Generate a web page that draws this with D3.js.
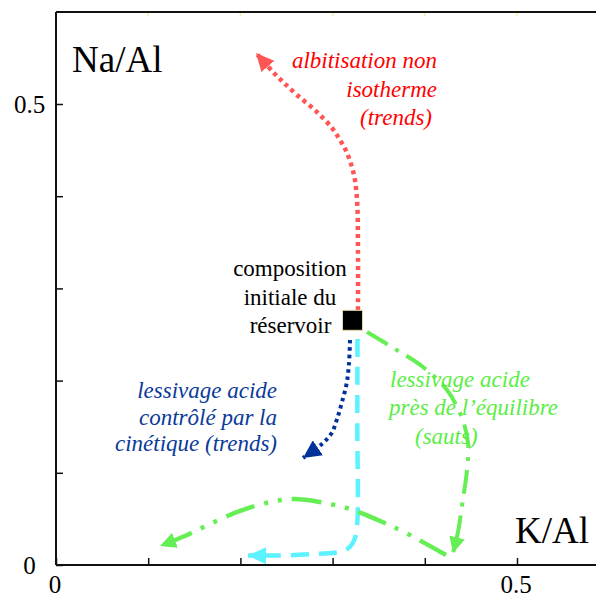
<!DOCTYPE html>
<html>
<head>
<meta charset="utf-8">
<script src="https://cdn.jsdelivr.net/npm/d3@7/dist/d3.min.js"></script>
<style>
  html, body { margin: 0; padding: 0; background: #fff; }
  svg { display: block; }
</style>
</head>
<body>
<svg id="chart" width="596" height="598"></svg>
<script>
// ---- data (K/Al, Na/Al) ----
const xTickValues = [0, 0.1, 0.2, 0.3, 0.4, 0.5];
const xTickLabels = ["0", "", "", "", "", "0.5"];
const yTickValues = [0, 0.1, 0.2, 0.3, 0.4, 0.5];
const yTickLabels = ["0", "", "", "", "", "0.5"];

const initialComposition = [0.3216, 0.2654];

const albitisationTrend = [
  [0.3275, 0.2766], [0.3275, 0.3416], [0.3265, 0.3959], [0.3232, 0.4230],
  [0.3156, 0.4469], [0.3080, 0.4610], [0.2993, 0.4740], [0.2831, 0.4913],
  [0.2614, 0.5098], [0.2462, 0.5239], [0.2354, 0.5347], [0.2169, 0.5553]
];
const kineticLeachingTrend = [
  [0.3189, 0.2440], [0.3178, 0.2191], [0.3153, 0.1974], [0.3099, 0.1757],
  [0.3045, 0.1573], [0.2990, 0.1432], [0.2896, 0.1323], [0.2679, 0.1161]
];
const cyanPath = [
  [0.3270, 0.2451], [0.3268, 0.1500], [0.3268, 0.0456], [0.3243, 0.0293],
  [0.3189, 0.0198], [0.3113, 0.0152], [0.3026, 0.0133], [0.2918, 0.0125],
  [0.2430, 0.0103], [0.2082, 0.0103]
];
const equilibriumJump1 = [
  [0.3373, 0.2527], [0.3677, 0.2343], [0.3980, 0.2148], [0.4241, 0.1898],
  [0.4403, 0.1594], [0.4469, 0.1323], [0.4458, 0.1030], [0.4414, 0.0716],
  [0.4360, 0.0358], [0.4306, 0.0130]
];
const equilibriumJump2 = [
  [0.4230, 0.0108], [0.3796, 0.0347], [0.3492, 0.0488], [0.3189, 0.0607],
  [0.2863, 0.0683], [0.2592, 0.0716], [0.2321, 0.0683], [0.1996, 0.0586],
  [0.1670, 0.0445], [0.1399, 0.0315], [0.1128, 0.0206]
];

const redLabel = ["albitisation non", "isotherme", "(trends)"];
const blackLabel = ["composition", "initiale du", "réservoir"];
const blueLabel = ["lessivage acide", "contrôlé par la", "cinétique (trends)"];
const greenLabel = ["lessivage acide", "près de l’équilibre", "(sauts)"];
const xAxisTitle = "K/Al";
const yAxisTitle = "Na/Al";

// ---- drawing ----
(function () {
const FONT = `"Liberation Serif", Tinos, Times, serif`;
const svg = d3.select("#chart");
const mLeft = 56, mRight = 596, mTop = 12, mBottom = 565;
const x = d3.scaleLinear().domain([0, (mRight - mLeft) / 922]).range([mLeft, mRight]);
const y = d3.scaleLinear().domain([0, (mBottom - mTop) / 922]).range([mBottom, mTop]);

function txt(sel, size) {
  return sel.attr("font-family", FONT).attr("font-size", size);
}

// top faint ticks
svg.append("g").selectAll("line").data(xTickValues.slice(1)).join("line")
  .attr("x1", d => x(d)).attr("x2", d => x(d))
  .attr("y1", mTop).attr("y2", mTop + 4)
  .attr("stroke", "#f4f0a0").attr("stroke-width", 1.5);

// frame top line
svg.append("line").attr("x1", mLeft).attr("x2", mRight).attr("y1", mTop).attr("y2", mTop)
  .attr("stroke", "#111").attr("stroke-width", 2);

// axes (ticks from d3 axis; labels drawn as text below)
const yAxis = d3.axisLeft(y).tickValues(yTickValues).tickFormat(() => "")
  .tickSizeInner(-7).tickSizeOuter(0);
const gy = svg.append("g").attr("transform", `translate(${mLeft},0)`).call(yAxis);
gy.select(".domain").attr("stroke", "#111").attr("stroke-width", 2)
  .attr("d", `M0,${mTop}V${mBottom}`);
gy.selectAll(".tick line").attr("stroke", "#111").attr("stroke-width", 1.5);
gy.selectAll(".tick text").remove();
gy.attr("font-family", null).attr("font-size", null);

const xAxis = d3.axisBottom(x).tickValues(xTickValues).tickFormat(() => "")
  .tickSizeInner(-7).tickSizeOuter(0);
const gx = svg.append("g").attr("transform", `translate(0,${mBottom})`).call(xAxis);
gx.select(".domain").attr("stroke", "#111").attr("stroke-width", 2)
  .attr("d", `M${mLeft},0H${mRight}`);
gx.selectAll(".tick line").attr("stroke", "#111").attr("stroke-width", 1.5);
gx.selectAll(".tick text").remove();
gx.attr("font-family", null).attr("font-size", null);

// tick labels
txt(svg.append("g").selectAll("text").data(yTickValues.map((v, i) => [v, yTickLabels[i]]).filter(d => d[1]))
  .join("text")
  .attr("x", mLeft - 26.5).attr("y", d => y(d[0]) + 8.5)
  .attr("text-anchor", "middle").attr("fill", "#000")
  .text(d => d[1]), 25);
txt(svg.append("g").selectAll("text").data(xTickValues.map((v, i) => [v, xTickLabels[i]]).filter(d => d[1]))
  .join("text")
  .attr("x", d => x(d[0]) - 1).attr("y", mBottom + 28)
  .attr("text-anchor", "middle").attr("fill", "#000")
  .text(d => d[1]), 25);

// axis titles
txt(svg.append("text").attr("x", 72).attr("y", 72).attr("fill", "#000"), 37).text(yAxisTitle);
txt(svg.append("text").attr("x", 515).attr("y", 543).attr("fill", "#000"), 37).text(xAxisTitle);

// arrow markers
const defs = svg.append("defs");
function marker(id, color, len, half) {
  defs.append("marker").attr("id", id)
    .attr("markerUnits", "userSpaceOnUse")
    .attr("viewBox", `0 ${-half} ${len} ${2 * half}`)
    .attr("markerWidth", len).attr("markerHeight", 2 * half)
    .attr("refX", len).attr("refY", 0).attr("orient", "auto")
    .append("path").attr("d", `M0,${-half}L${len},0L0,${half}Z`).attr("fill", color);
}
const red = "#ff5555", blue = "#003399", cyan = "#5cf2ff", green = "#66ee55";
marker("arRed", red, 18, 8.5);
marker("arBlue", blue, 18, 9);
marker("arCyan", cyan, 18, 8.5);
marker("arGreen", green, 16, 8);

const line = d3.line().x(d => x(d[0])).y(d => y(d[1])).curve(d3.curveCatmullRom.alpha(0.5));

function drawPath(data, color, width, dash, arrow) {
  svg.append("path").datum(data).attr("d", line)
    .attr("fill", "none").attr("stroke", color).attr("stroke-width", width)
    .attr("stroke-dasharray", dash)
    .attr("marker-end", `url(#${arrow})`);
}

drawPath(albitisationTrend, red, 4.5, "4,4", "arRed");
drawPath(kineticLeachingTrend, blue, 4, "3.5,3.8", "arBlue");
drawPath(cyanPath, cyan, 4.5, "18,10", "arCyan");
drawPath(equilibriumJump1, green, 4, "24,9,4,9", "arGreen");
drawPath(equilibriumJump2, green, 4.5, "30,10,4,10,4,10", "arGreen");

// initial composition square
svg.append("rect")
  .attr("x", x(initialComposition[0]) - 10).attr("y", y(initialComposition[1]) - 10)
  .attr("width", 20).attr("height", 20)
  .attr("fill", "#000").attr("stroke", "#e6dca0").attr("stroke-width", 1);

// annotation text
function label(lines, xs, ys, anchor, color, italic) {
  const t = svg.append("g");
  lines.forEach((s, i) => {
    txt(t.append("text").attr("x", xs[i]).attr("y", ys[i]).attr("text-anchor", anchor)
      .attr("font-style", italic ? "italic" : "normal").attr("fill", color), 23)
      .text(s);
  });
}
label(redLabel, [437, 437, 432], [68, 96.5, 124.5], "end", "#ff0000", true);
label(blackLabel, [290, 290, 290.5], [275.5, 304.5, 333], "middle", "#000", false);
label(blueLabel, [277, 277, 277], [398, 424.5, 450.5], "end", "#0a3a9a", true);
label(greenLabel, [390, 389, 415], [387, 415, 443.5], "start", "#5aee44", true);

// force text layout so the chosen font is resolved before capture
svg.selectAll("text").each(function () { this.getComputedTextLength(); });
})();
</script>
</body>
</html>
